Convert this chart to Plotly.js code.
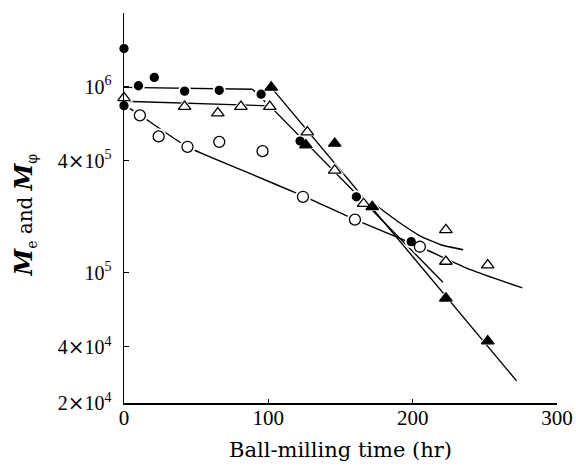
<!DOCTYPE html>
<html>
<head>
<meta charset="utf-8">
<script src="https://cdn.plot.ly/plotly-3.0.1.min.js"></script>
<style>html,body{margin:0;padding:0;background:#fff;}</style>
</head>
<body>
<div id="chart" style="width:576px;height:467px;"></div>
<script>
// ---- data ----
const xFilledCircle = [0, 0, 10, 21, 42, 66, 95, 122, 161, 199];
const yFilledCircle = [1.6e6, 7.9e5, 1.01e6, 1.12e6, 9.45e5, 9.55e5, 9.1e5, 5.1e5, 2.56e5, 1.47e5];

const xOpenCircle = [11, 24, 44, 66, 96, 124, 160, 205];
const yOpenCircle = [7.0e5, 5.4e5, 4.75e5, 5.05e5, 4.5e5, 2.56e5, 1.93e5, 1.38e5];

const xOpenTri = [0, 42, 65, 81, 101, 127, 146, 166, 223, 223, 252];
const yOpenTri = [8.7e5, 7.8e5, 7.2e5, 7.8e5, 7.8e5, 5.7e5, 3.55e5, 2.35e5, 1.70e5, 1.15e5, 1.10e5];

const xFilledTri = [102, 126, 146, 172, 223, 252];
const yFilledTri = [9.9e5, 4.85e5, 4.95e5, 2.26e5, 7.3e4, 4.3e4];

// fitted lines / curves
const xLineTop = [0, 89];
const yLineTop = [9.9e5, 9.67e5];
const xLineDrop = [89, 98];
const yLineDrop = [9.67e5, 8.25e5];
const xLineOpenTri = [0, 101, 221];
const yLineOpenTri = [8.34e5, 7.88e5, 8.9e4];
const xLineFilledTri = [102, 272];
const yLineFilledTri = [9.9e5, 2.63e4];
const xCurveBranch = [175, 190, 205, 220, 235];
const yCurveBranch = [2.29e5, 1.88e5, 1.58e5, 1.41e5, 1.33e5];
const xCurveOpenCircle = [0, 11, 44, 80, 124, 160, 205, 240, 276];
const yCurveOpenCircle = [7.97e5, 7.04e5, 4.74e5, 3.6e5, 2.59e5, 1.93e5, 1.38e5, 1.04e5, 8.3e4];

const yTickVals = [2e4, 4e4, 1e5, 4e5, 1e6];
const xTickVals = [0, 100, 200, 300];
const X = '<span style="font-family:DejaVu Serif">×</span>';
const yTickText = ['2' + X + '10<sup>4</sup>', '4' + X + '10<sup>4</sup>', '10<sup>5</sup>', '4' + X + '10<sup>5</sup>', '10<sup>6</sup>'];
const xTickText = ['0', '100', '200', '300'];

// ---- traces ----
const lw = 1.4;
function line(x, y, dash, spline) {
  return {x: x, y: y, mode: 'lines', type: 'scatter', cliponaxis: false, hoverinfo: 'skip',
    line: {color: '#000', width: lw, dash: dash || 'solid', shape: spline ? 'spline' : 'linear', smoothing: 0.5}};
}
function halo(x, y, symbol, size) {
  return {x: x, y: y, mode: 'markers', type: 'scatter', cliponaxis: false, hoverinfo: 'skip',
    marker: {symbol: symbol, size: size, color: '#fff', line: {width: 0}}};
}
function pts(x, y, symbol, size, fill) {
  return {x: x, y: y, mode: 'markers', type: 'scatter', cliponaxis: false,
    marker: {symbol: symbol, size: size, color: fill, line: {color: '#000', width: 1.3}}};
}

const data = [
  line(xLineTop, yLineTop),
  line(xLineDrop, yLineDrop, '4px,3px'),
  line(xLineOpenTri, yLineOpenTri),
  line(xLineFilledTri, yLineFilledTri),
  line(xCurveBranch, yCurveBranch, null, true),
  line(xCurveOpenCircle, yCurveOpenCircle, null, true),
  halo(xFilledCircle, yFilledCircle, 'circle', 13),
  halo(xOpenCircle, yOpenCircle, 'circle', 16),
  halo(xOpenTri, yOpenTri, 'triangle-up', 16),
  halo(xFilledTri, yFilledTri, 'triangle-up', 16),
  pts(xFilledCircle, yFilledCircle, 'circle', 8, '#000'),
  pts(xOpenCircle, yOpenCircle, 'circle', 11, '#fff'),
  pts(xOpenTri, yOpenTri, 'triangle-up', 11, '#fff'),
  pts(xFilledTri, yFilledTri, 'triangle-up', 11, '#000')
];

const layout = {
  width: 576, height: 467,
  margin: {l: 124, r: 19, t: 13, b: 64, pad: 0},
  paper_bgcolor: '#fff', plot_bgcolor: '#fff',
  showlegend: false,
  font: {family: 'Liberation Serif, serif', color: '#000'},
  xaxis: {
    range: [0, 300], tickmode: 'array', tickvals: xTickVals, ticktext: xTickText,
    ticks: 'inside', ticklen: 4, tickwidth: 1, tickcolor: '#000',
    showline: true, linecolor: '#000', linewidth: 1.5, zeroline: false, showgrid: false,
    tickfont: {family: 'Liberation Serif', size: 21, color: '#000'},
    ticklabelstandoff: -5
  },
  yaxis: {
    type: 'log', range: [Math.log10(2e4), 6.395], tickmode: 'array', tickvals: yTickVals, ticktext: yTickText,
    ticks: 'inside', ticklen: 5, tickwidth: 1, tickcolor: '#000',
    showline: true, linecolor: '#000', linewidth: 1.5, zeroline: false, showgrid: false,
    tickfont: {family: 'Liberation Serif', size: 20, color: '#000'},
    ticklabelstandoff: 7
  },
  annotations: [
    {xref: 'paper', yref: 'paper', x: -0.23, y: 0.482, xanchor: 'center', yanchor: 'middle', textangle: -90, showarrow: false,
     text: '<b><i><span style="font-size:24px">M</span></i></b><sub>e</sub> and <b><i><span style="font-size:24px">M</span></i></b><sub>φ</sub>',
     font: {family: 'DejaVu Serif', size: 20, color: '#000'}},
    {xref: 'paper', yref: 'paper', x: 0.5, y: -0.12, xanchor: 'center', yanchor: 'middle', showarrow: false,
     text: 'Ball-milling time (hr)', font: {family: 'DejaVu Serif', size: 21, color: '#000'}}
  ]
};

Plotly.newPlot('chart', data, layout, {displayModeBar: false, staticPlot: true});
</script>
</body>
</html>
